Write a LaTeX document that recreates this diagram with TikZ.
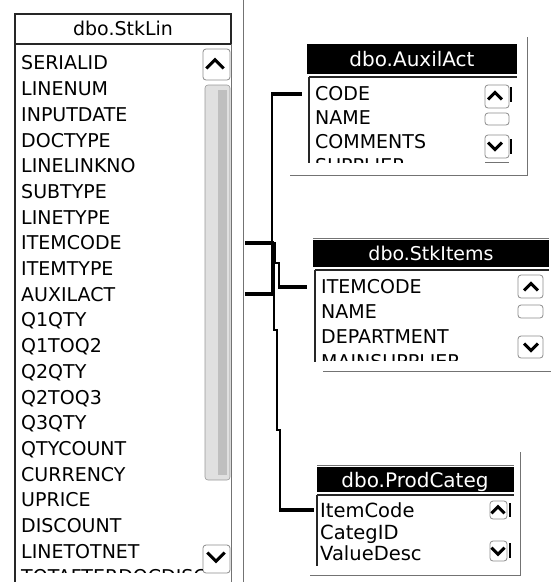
\documentclass[tikz,border=0pt]{standalone}
\usepackage{fontspec}
\setmainfont{DejaVu Sans}
\newcommand\myfs[1]{\fontsize{#1}{#1}\selectfont}
\tikzset{
  row/.style={anchor=west, inner sep=0pt, font=\myfs{#1}, text height={0.73pt*#1}, text depth=0pt},
  row/.default=19,
  ttl/.style={inner sep=0pt, font=\myfs{#1}, text height={0.73pt*#1}, text depth=0pt},
  ttl/.default=19,
  frame/.style={draw=black!85, line width=1.2pt},
  faint/.style={draw=black!55, line width=0.8pt},
  btn/.style={draw=black!45, line width=0.8pt, rounded corners=3pt},
  track/.style={fill=black!12, draw=black!40, line width=0.6pt, rounded corners=3pt},
  stub/.style={draw=black, line width=4.2pt},
  wire/.style={draw=black, line width=1.8pt},
  upchev/.pic={\draw[line width=3pt] (-6,3) -- (0,-3) -- (6,3);},
  dnchev/.pic={\draw[line width=3pt] (-6,-3) -- (0,3) -- (6,-3);},
}
\begin{document}
\begin{tikzpicture}[x=1pt, y=-1pt]
\useasboundingbox (0,0) rectangle (551,582);
\fill[white] (0,0) rectangle (551,582);

% ---------- dbo.StkLin ----------
\draw[frame] (15,582) -- (15,14) -- (231,14) -- (231,44);
\draw[frame] (15,44) -- (231,44);
\draw[faint] (231,44) -- (231,582);
\node[ttl=19] (lin-title) at (123,29) {dbo.StkLin};
\draw[faint] (243,0) -- (243,582);
% scrollbar
\draw[btn] (203,49) rectangle (230,80);
\pic[scale=1.45] at (215,64) {upchev};
\draw[track] (205,85) rectangle (230,480);
\fill[black!25] (218,90) rectangle (227,475);
\draw[btn] (203,545) rectangle (230,573);
\pic[scale=1.45] at (216,557) {dnchev};
\begin{scope}
\clip (16,45) rectangle (202,572);
\foreach \t [count=\i from 0] in {SERIALID,LINENUM,INPUTDATE,DOCTYPE,LINELINKNO,SUBTYPE,LINETYPE,ITEMCODE,ITEMTYPE,AUXILACT,Q1QTY,Q1TOQ2,Q2QTY,Q2TOQ3,Q3QTY,QTYCOUNT,CURRENCY,UPRICE,DISCOUNT,LINETOTNET,TOTAFTERDOCDISC}
  \node[row=19] (lin-\t) at (21,{63+25.7*\i}) {\t};
\end{scope}

% ---------- dbo.AuxilAct ----------
\draw[faint] (527,37) -- (527,175) -- (290,175);
\fill[black] (307,44) rectangle (517,74);
\node[ttl=20, text=white] (aux-title) at (412,59) {dbo.AuxilAct};
\draw[frame] (309,77) -- (517,77);
\draw[frame] (309,77) -- (309,163);
\draw[btn] (485,85) rectangle (509,108);
\pic[scale=1.15] at (495,96) {upchev};
\draw[btn] (485,113) rectangle (509,125);
\draw[btn] (485,135) rectangle (509,158);
\pic[scale=1.15] at (495,146) {dnchev};
\draw[line width=1.2pt] (511,87) -- (511,102);
\draw[line width=1.2pt] (511,139) -- (511,154);
\draw[faint] (485,162) -- (509,162);
\begin{scope}
\clip (310,78) rectangle (484,162);
\node[row=19] (aux-CODE) at (315,94) {CODE};
\node[row=19] (aux-NAME) at (315,118) {NAME};
\node[row=19] (aux-COMMENTS) at (315,142) {COMMENTS};
\node[row=19] (aux-SUPPLIER) at (315,166) {SUPPLIER};
\end{scope}

% ---------- dbo.StkItems ----------
\draw[faint] (313,238) -- (549,238);
\draw[faint] (323,371) -- (551,371);
\fill[black] (313,240) rectangle (549,267);
\node[ttl=19, text=white] (itm-title) at (431,254) {dbo.StkItems};
\draw[frame] (315,270) -- (549,270);
\draw[frame] (315,270) -- (315,362);
\draw[btn] (518,275) rectangle (543,298);
\pic[scale=1.15] at (531,287) {upchev};
\draw[btn] (518,305) rectangle (543,318);
\draw[btn] (518,336) rectangle (543,358);
\pic[scale=1.15] at (531,347) {dnchev};
\begin{scope}
\clip (316,271) rectangle (516,360);
\node[row=19] (itm-ITEMCODE) at (321,287) {ITEMCODE};
\node[row=19] (itm-NAME) at (321,312) {NAME};
\node[row=19] (itm-DEPARTMENT) at (321,337) {DEPARTMENT};
\node[row=19] (itm-MAINSUPPLIER) at (321,362) {MAINSUPPLIER};
\end{scope}

% ---------- dbo.ProdCateg ----------
\draw[faint] (520,452) -- (520,575) -- (310,575);
\draw[faint] (317,465) -- (514,465);
\fill[black] (317,467) rectangle (514,492);
\node[ttl=20, text=white] (prc-title) at (415,480) {dbo.ProdCateg};
\draw[frame] (317,495) -- (514,495);
\draw[frame] (317,495) -- (317,566);
\draw[btn] (490,501) rectangle (507,519);
\pic[scale=1.1] at (498,510) {upchev};
\draw[btn] (490,541) rectangle (507,561);
\pic[scale=1.1] at (498,551) {dnchev};
\draw[line width=1.2pt] (510,503) -- (510,517);
\draw[line width=1.2pt] (510,543) -- (510,558);
\begin{scope}
\clip (318,496) rectangle (488,566);
\node[row=19.5] (prc-ItemCode) at (320,510) {ItemCode};
\node[row=19.5] (prc-CategID) at (320,532) {CategID};
\node[row=19.5] (prc-ValueDesc) at (320,553) {ValueDesc};
\end{scope}

% ---------- connectors ----------
% AUXILACT -> AuxilAct.CODE
\coordinate (ja) at (272,0 |- lin-AUXILACT.west);
\draw[stub] (245,0 |- lin-AUXILACT.west) -- ([xshift=1pt]ja);
\draw[wire] (ja) -- (ja |- aux-CODE.west);
\draw[stub] ([xshift=-1pt]ja |- aux-CODE.west) -- ([xshift=-13pt]aux-CODE.west);
% ITEMCODE -> StkItems.ITEMCODE
\coordinate (jb) at (273,0 |- lin-ITEMCODE.west);
\draw[stub] (245,0 |- lin-ITEMCODE.west) -- ([xshift=1pt]jb);
\draw[wire] (jb) -- ++(2,0) -- ++(0,20) -- ++(4,0) coordinate (jc) -- (jc |- itm-ITEMCODE.west);
\draw[stub] ([xshift=-1pt]jc |- itm-ITEMCODE.west) -- ([xshift=-14pt]itm-ITEMCODE.west);
% ITEMCODE -> ProdCateg.ItemCode
\draw[wire] (jb) -- ++(1,0) -- ++(0,87) -- ++(3,0) -- ++(0,100) -- ++(3,0) coordinate (jd) -- (jd |- prc-ItemCode.west);
\draw[stub] ([xshift=-1pt]jd |- prc-ItemCode.west) -- ([xshift=-6pt]prc-ItemCode.west);
\end{tikzpicture}
\end{document}
